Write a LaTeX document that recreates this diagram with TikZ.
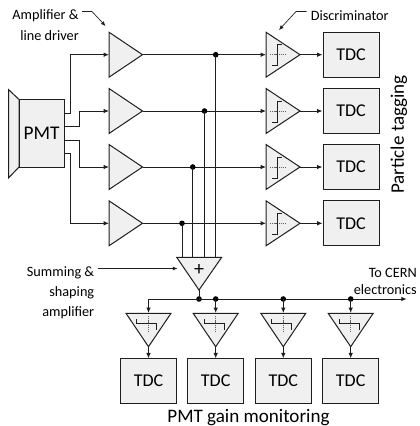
\documentclass[tikz,border=0pt]{standalone}
\usepackage{fontspec}
\setmainfont{Carlito}
\usetikzlibrary{arrows.meta}
\definecolor{fillg}{RGB}{240,240,240}
\definecolor{ink}{RGB}{30,30,30}
\tikzset{
  x=0.75pt,y=-0.75pt,
  block/.style={draw=ink,fill=fillg,line width=0.75pt,line join=miter},
  wire/.style={draw=ink,line width=0.75pt},
  arr/.style={wire,-{Latex[length=4pt,width=3.4pt]}},
  thin/.style={draw=ink,line width=0.5pt},
  dashl/.style={draw=ink!70,line width=0.4pt,dash pattern=on 1pt off 0.6pt},
  dot/.style={circle,fill=black,inner sep=0pt,minimum size=4.2pt},
  tdc/.style={block,minimum width=42pt,minimum height=33.6pt,inner sep=0pt,font=\fontsize{13.5}{15}\selectfont},
  lab/.style={inner sep=0pt,font=\fontsize{10.7}{12}\selectfont},
  big/.style={inner sep=0pt,font=\fontsize{14.3}{16}\selectfont}
}
\begin{document}
\begin{tikzpicture}
\useasboundingbox (0,0) rectangle (419,426);
% PMT
\draw[block] (8.5,89.5) -- (19,99.5) -- (19,167) -- (8.5,178) -- cycle;
\node[block,minimum width=33.75pt,minimum height=50.6pt,inner sep=0pt,font=\fontsize{14.5}{16}\selectfont] (pmt) at (41.5,133.3) {PMT};
\foreach \i/\y in {1/54.7,2/111,3/167,4/223.3}{
  \coordinate (ain\i) at (109,\y);
  \coordinate (aout\i) at (142.5,\y);
  \coordinate (din\i) at (266,\y);
  \coordinate (dout\i) at (300,\y);
  \node[tdc] (t\i) at (351,\y) {TDC};
  \draw[block] (109,\y-22.5) -- (142.5,\y) -- (109,\y+22.5) -- cycle;
  \draw[block] (266,\y-22.5) -- (300,\y) -- (266,\y+22.5) -- cycle;
  \draw[dashl] (270,\y) -- (285,\y);
  \draw[thin] (272,\y+11) -- (277,\y+11) -- (277,\y-10) -- (282,\y-10);
  \draw[arr] (aout\i) -- (din\i);
  \draw[arr] (dout\i) -- (t\i.west);
}
\coordinate (o1) at (64,113.3);
\coordinate (o2) at (64,126.7);
\coordinate (o3) at (64,140.3);
\coordinate (o4) at (64,153.7);
\draw[arr] (o1) -- (70.7,113.3) -- (70.7,54.7) -- (ain1);
\draw[arr] (o2) -- (79.5,126.7) -- (79.5,111) -- (ain2);
\draw[arr] (o3) -- (79.5,140.3) -- (79.5,167) -- (ain3);
\draw[arr] (o4) -- (70.7,153.7) -- (70.7,223.3) -- (ain4);
% summing
\foreach \i/\x/\y in {1/215.7/54.7,2/204.5/111,3/192.8/167,4/182/223.3}{
  \node[dot] (d\i) at (\x,\y) {};
  \draw[wire] (d\i.center) -- (\x,257.3);
}
\draw[block] (176.7,257.3) -- (221.7,257.3) -- (199,290) -- cycle;
\node[big,font=\fontsize{15}{16}\selectfont] (plus) at (199,269.5) {+};
\coordinate (sout) at (199,290);
\node[dot] (sd) at (199,299) {};
\draw[wire] (sout) -- (sd.center);
\coordinate (bl) at (148.5,299);
\coordinate (br) at (406.7,299);
\draw[arr] (sd.center) -- (bl) -- (148.5,313);
\draw[arr] (sd.center) -- (br);
\foreach \i/\x in {1/148.5,2/215.7,3/283.3,4/350.7}{
  \ifnum\i>1
    \node[dot] (b\i) at (\x,299) {};
    \draw[arr] (b\i.center) -- (\x,313);
  \fi
  \draw[block] (\x-22.5,313.3) -- (\x+22.5,313.3) -- (\x,346.7) -- cycle;
  \draw[dashl] (\x,316) -- (\x,332.7);
  \draw[thin] (\x-11.8,319.3) -- (\x-11.8,323.5) -- (\x+8.2,323.5) -- (\x+8.2,330);
  \node[tdc] (u\i) at (\x,381.2) {TDC};
  \draw[arr] (\x,346.7) -- (u\i.north);
}
% labels
\node[lab] (l1) at (45.5,15.5) {Amplifier \&};
\node[lab] (l2) at (49.5,35.5) {line driver};
\coordinate (l1a) at (82,11.5);
\coordinate (l1b) at (92,11.5);
\coordinate (l1c) at (105.5,26);
\draw[wire,line width=0.5pt,-{Latex[length=3.5pt,width=3pt]}] (l1a) -- (l1b) -- (l1c);
\node[lab,anchor=west] (l3) at (310.5,15.5) {Discriminator};
\coordinate (l3a) at (306.5,11.5);
\coordinate (l3b) at (296,11.5);
\coordinate (l3c) at (279,30);
\draw[wire,line width=0.5pt,-{Latex[length=3.5pt,width=3pt]}] (l3a) -- (l3b) -- (l3c);
\node[big,rotate=90] (pt) at (399,134.5) {Particle tagging};
\node[lab,anchor=east] (s1) at (94.5,272.5) {Summing \&};
\node[lab,anchor=east] (s2) at (94.5,292.5) {shaping};
\node[lab,anchor=east] (s3) at (94.5,312.5) {amplifier};
\coordinate (s1a) at (97.5,268.5);
\draw[wire,line width=0.5pt,-{Latex[length=3.5pt,width=3pt]}] (s1a) -- (177.5,268.5);
\node[lab,anchor=east] (c1) at (417,272.5) {To CERN};
\node[lab,anchor=east] (c2) at (417,289.5) {electronics};
\node[big] (g) at (248.5,418) {PMT gain monitoring};
\end{tikzpicture}
\end{document}
